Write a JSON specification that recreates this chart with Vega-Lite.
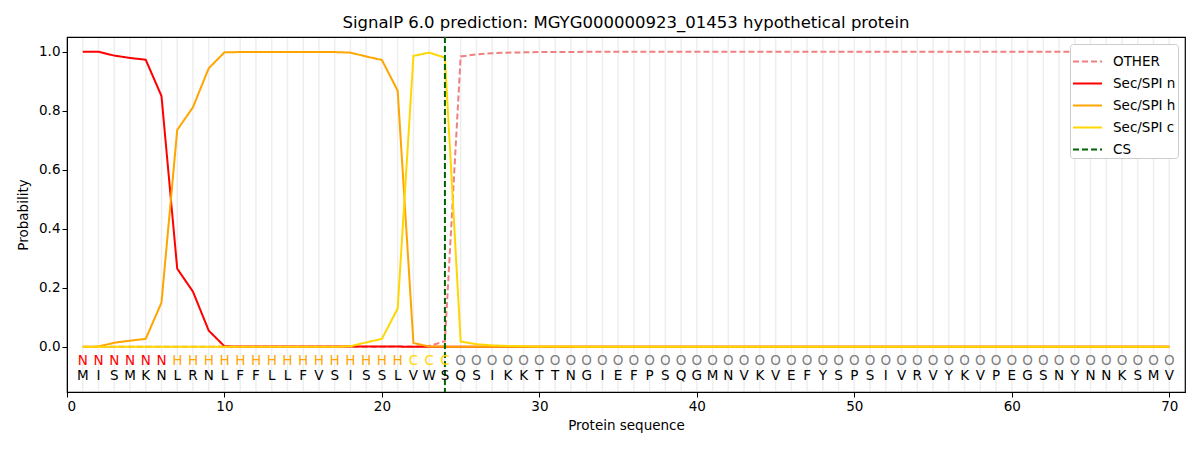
{
  "$schema": "https://vega.github.io/schema/vega-lite/v6.json",
  "width": 1118,
  "height": 355,
  "autosize": "none",
  "padding": {"left": 67, "top": 37, "right": 15, "bottom": 58},
  "title": {
    "text": "SignalP 6.0 prediction: MGYG000000923_01453 hypothetical protein",
    "font": "DejaVu Sans",
    "fontSize": 16.5,
    "fontWeight": "normal",
    "offset": 5
  },
  "config": {
    "font": "DejaVu Sans",
    "view": {"stroke": "black", "strokeWidth": 1.2},
    "axis": {
      "grid": false,
      "domainColor": "black",
      "tickColor": "black",
      "labelColor": "black",
      "labelFontSize": 13.5,
      "titleFontSize": 13.5,
      "titleFontWeight": "normal",
      "titleColor": "black",
      "tickSize": 5
    }
  },
  "datasets": {
    "seq": [
      {"pos": 1, "aa": "M", "region": "N"}, {"pos": 2, "aa": "I", "region": "N"},
      {"pos": 3, "aa": "S", "region": "N"}, {"pos": 4, "aa": "M", "region": "N"},
      {"pos": 5, "aa": "K", "region": "N"}, {"pos": 6, "aa": "N", "region": "N"},
      {"pos": 7, "aa": "L", "region": "H"}, {"pos": 8, "aa": "R", "region": "H"},
      {"pos": 9, "aa": "N", "region": "H"}, {"pos": 10, "aa": "L", "region": "H"},
      {"pos": 11, "aa": "F", "region": "H"}, {"pos": 12, "aa": "F", "region": "H"},
      {"pos": 13, "aa": "L", "region": "H"}, {"pos": 14, "aa": "L", "region": "H"},
      {"pos": 15, "aa": "F", "region": "H"}, {"pos": 16, "aa": "V", "region": "H"},
      {"pos": 17, "aa": "S", "region": "H"}, {"pos": 18, "aa": "I", "region": "H"},
      {"pos": 19, "aa": "S", "region": "H"}, {"pos": 20, "aa": "S", "region": "H"},
      {"pos": 21, "aa": "L", "region": "H"}, {"pos": 22, "aa": "V", "region": "C"},
      {"pos": 23, "aa": "W", "region": "C"}, {"pos": 24, "aa": "S", "region": "C"},
      {"pos": 25, "aa": "Q", "region": "O"}, {"pos": 26, "aa": "S", "region": "O"},
      {"pos": 27, "aa": "I", "region": "O"}, {"pos": 28, "aa": "K", "region": "O"},
      {"pos": 29, "aa": "K", "region": "O"}, {"pos": 30, "aa": "T", "region": "O"},
      {"pos": 31, "aa": "T", "region": "O"}, {"pos": 32, "aa": "N", "region": "O"},
      {"pos": 33, "aa": "G", "region": "O"}, {"pos": 34, "aa": "I", "region": "O"},
      {"pos": 35, "aa": "E", "region": "O"}, {"pos": 36, "aa": "F", "region": "O"},
      {"pos": 37, "aa": "P", "region": "O"}, {"pos": 38, "aa": "S", "region": "O"},
      {"pos": 39, "aa": "Q", "region": "O"}, {"pos": 40, "aa": "G", "region": "O"},
      {"pos": 41, "aa": "M", "region": "O"}, {"pos": 42, "aa": "N", "region": "O"},
      {"pos": 43, "aa": "V", "region": "O"}, {"pos": 44, "aa": "K", "region": "O"},
      {"pos": 45, "aa": "V", "region": "O"}, {"pos": 46, "aa": "E", "region": "O"},
      {"pos": 47, "aa": "F", "region": "O"}, {"pos": 48, "aa": "Y", "region": "O"},
      {"pos": 49, "aa": "S", "region": "O"}, {"pos": 50, "aa": "P", "region": "O"},
      {"pos": 51, "aa": "S", "region": "O"}, {"pos": 52, "aa": "I", "region": "O"},
      {"pos": 53, "aa": "V", "region": "O"}, {"pos": 54, "aa": "R", "region": "O"},
      {"pos": 55, "aa": "V", "region": "O"}, {"pos": 56, "aa": "Y", "region": "O"},
      {"pos": 57, "aa": "K", "region": "O"}, {"pos": 58, "aa": "V", "region": "O"},
      {"pos": 59, "aa": "P", "region": "O"}, {"pos": 60, "aa": "E", "region": "O"},
      {"pos": 61, "aa": "G", "region": "O"}, {"pos": 62, "aa": "S", "region": "O"},
      {"pos": 63, "aa": "N", "region": "O"}, {"pos": 64, "aa": "Y", "region": "O"},
      {"pos": 65, "aa": "N", "region": "O"}, {"pos": 66, "aa": "N", "region": "O"},
      {"pos": 67, "aa": "K", "region": "O"}, {"pos": 68, "aa": "S", "region": "O"},
      {"pos": 69, "aa": "M", "region": "O"}, {"pos": 70, "aa": "V", "region": "O"}
    ],
    "prob": [
      {"pos": 1, "OTHER": 0.0, "Sec/SPI n": 1.0, "Sec/SPI h": 0.0, "Sec/SPI c": 0.0},
      {"pos": 2, "OTHER": 0.0, "Sec/SPI n": 1.0, "Sec/SPI h": 0.001, "Sec/SPI c": 0.0},
      {"pos": 3, "OTHER": 0.0, "Sec/SPI n": 0.987, "Sec/SPI h": 0.014, "Sec/SPI c": 0.0},
      {"pos": 4, "OTHER": 0.0, "Sec/SPI n": 0.979, "Sec/SPI h": 0.021, "Sec/SPI c": 0.0},
      {"pos": 5, "OTHER": 0.0, "Sec/SPI n": 0.973, "Sec/SPI h": 0.027, "Sec/SPI c": 0.0},
      {"pos": 6, "OTHER": 0.0, "Sec/SPI n": 0.85, "Sec/SPI h": 0.15, "Sec/SPI c": 0.0},
      {"pos": 7, "OTHER": 0.0, "Sec/SPI n": 0.265, "Sec/SPI h": 0.735, "Sec/SPI c": 0.0},
      {"pos": 8, "OTHER": 0.0, "Sec/SPI n": 0.187, "Sec/SPI h": 0.812, "Sec/SPI c": 0.0},
      {"pos": 9, "OTHER": 0.0, "Sec/SPI n": 0.055, "Sec/SPI h": 0.944, "Sec/SPI c": 0.0},
      {"pos": 10, "OTHER": 0.0, "Sec/SPI n": 0.002, "Sec/SPI h": 0.998, "Sec/SPI c": 0.0},
      {"pos": 11, "OTHER": 0.0, "Sec/SPI n": 0.001, "Sec/SPI h": 0.999, "Sec/SPI c": 0.0},
      {"pos": 12, "OTHER": 0.0, "Sec/SPI n": 0.001, "Sec/SPI h": 0.999, "Sec/SPI c": 0.0},
      {"pos": 13, "OTHER": 0.0, "Sec/SPI n": 0.001, "Sec/SPI h": 0.999, "Sec/SPI c": 0.0},
      {"pos": 14, "OTHER": 0.0, "Sec/SPI n": 0.001, "Sec/SPI h": 0.999, "Sec/SPI c": 0.0},
      {"pos": 15, "OTHER": 0.0, "Sec/SPI n": 0.001, "Sec/SPI h": 0.999, "Sec/SPI c": 0.0},
      {"pos": 16, "OTHER": 0.0, "Sec/SPI n": 0.001, "Sec/SPI h": 0.999, "Sec/SPI c": 0.0},
      {"pos": 17, "OTHER": 0.0, "Sec/SPI n": 0.001, "Sec/SPI h": 0.999, "Sec/SPI c": 0.0},
      {"pos": 18, "OTHER": 0.0, "Sec/SPI n": 0.001, "Sec/SPI h": 0.997, "Sec/SPI c": 0.002},
      {"pos": 19, "OTHER": 0.0, "Sec/SPI n": 0.001, "Sec/SPI h": 0.984, "Sec/SPI c": 0.015},
      {"pos": 20, "OTHER": 0.0, "Sec/SPI n": 0.001, "Sec/SPI h": 0.972, "Sec/SPI c": 0.027},
      {"pos": 21, "OTHER": 0.001, "Sec/SPI n": 0.001, "Sec/SPI h": 0.868, "Sec/SPI c": 0.13},
      {"pos": 22, "OTHER": 0.001, "Sec/SPI n": 0.0, "Sec/SPI h": 0.013, "Sec/SPI c": 0.986},
      {"pos": 23, "OTHER": 0.003, "Sec/SPI n": 0.0, "Sec/SPI h": 0.001, "Sec/SPI c": 0.997},
      {"pos": 24, "OTHER": 0.019, "Sec/SPI n": 0.0, "Sec/SPI h": 0.001, "Sec/SPI c": 0.98},
      {"pos": 25, "OTHER": 0.984, "Sec/SPI n": 0.0, "Sec/SPI h": 0.0, "Sec/SPI c": 0.018},
      {"pos": 26, "OTHER": 0.991, "Sec/SPI n": 0.0, "Sec/SPI h": 0.0, "Sec/SPI c": 0.009},
      {"pos": 27, "OTHER": 0.995, "Sec/SPI n": 0.0, "Sec/SPI h": 0.0, "Sec/SPI c": 0.005},
      {"pos": 28, "OTHER": 0.997, "Sec/SPI n": 0.0, "Sec/SPI h": 0.0, "Sec/SPI c": 0.003},
      {"pos": 29, "OTHER": 0.998, "Sec/SPI n": 0.0, "Sec/SPI h": 0.0, "Sec/SPI c": 0.002},
      {"pos": 30, "OTHER": 0.999, "Sec/SPI n": 0.0, "Sec/SPI h": 0.0, "Sec/SPI c": 0.001},
      {"pos": 31, "OTHER": 0.999, "Sec/SPI n": 0.0, "Sec/SPI h": 0.0, "Sec/SPI c": 0.001},
      {"pos": 32, "OTHER": 0.999, "Sec/SPI n": 0.0, "Sec/SPI h": 0.0, "Sec/SPI c": 0.001},
      {"pos": 33, "OTHER": 1.0, "Sec/SPI n": 0.0, "Sec/SPI h": 0.0, "Sec/SPI c": 0.0},
      {"pos": 34, "OTHER": 1.0, "Sec/SPI n": 0.0, "Sec/SPI h": 0.0, "Sec/SPI c": 0.0},
      {"pos": 35, "OTHER": 1.0, "Sec/SPI n": 0.0, "Sec/SPI h": 0.0, "Sec/SPI c": 0.0},
      {"pos": 36, "OTHER": 1.0, "Sec/SPI n": 0.0, "Sec/SPI h": 0.0, "Sec/SPI c": 0.0},
      {"pos": 37, "OTHER": 1.0, "Sec/SPI n": 0.0, "Sec/SPI h": 0.0, "Sec/SPI c": 0.0},
      {"pos": 38, "OTHER": 1.0, "Sec/SPI n": 0.0, "Sec/SPI h": 0.0, "Sec/SPI c": 0.0},
      {"pos": 39, "OTHER": 1.0, "Sec/SPI n": 0.0, "Sec/SPI h": 0.0, "Sec/SPI c": 0.0},
      {"pos": 40, "OTHER": 1.0, "Sec/SPI n": 0.0, "Sec/SPI h": 0.0, "Sec/SPI c": 0.0},
      {"pos": 41, "OTHER": 1.0, "Sec/SPI n": 0.0, "Sec/SPI h": 0.0, "Sec/SPI c": 0.0},
      {"pos": 42, "OTHER": 1.0, "Sec/SPI n": 0.0, "Sec/SPI h": 0.0, "Sec/SPI c": 0.0},
      {"pos": 43, "OTHER": 1.0, "Sec/SPI n": 0.0, "Sec/SPI h": 0.0, "Sec/SPI c": 0.0},
      {"pos": 44, "OTHER": 1.0, "Sec/SPI n": 0.0, "Sec/SPI h": 0.0, "Sec/SPI c": 0.0},
      {"pos": 45, "OTHER": 1.0, "Sec/SPI n": 0.0, "Sec/SPI h": 0.0, "Sec/SPI c": 0.0},
      {"pos": 46, "OTHER": 1.0, "Sec/SPI n": 0.0, "Sec/SPI h": 0.0, "Sec/SPI c": 0.0},
      {"pos": 47, "OTHER": 1.0, "Sec/SPI n": 0.0, "Sec/SPI h": 0.0, "Sec/SPI c": 0.0},
      {"pos": 48, "OTHER": 1.0, "Sec/SPI n": 0.0, "Sec/SPI h": 0.0, "Sec/SPI c": 0.0},
      {"pos": 49, "OTHER": 1.0, "Sec/SPI n": 0.0, "Sec/SPI h": 0.0, "Sec/SPI c": 0.0},
      {"pos": 50, "OTHER": 1.0, "Sec/SPI n": 0.0, "Sec/SPI h": 0.0, "Sec/SPI c": 0.0},
      {"pos": 51, "OTHER": 1.0, "Sec/SPI n": 0.0, "Sec/SPI h": 0.0, "Sec/SPI c": 0.0},
      {"pos": 52, "OTHER": 1.0, "Sec/SPI n": 0.0, "Sec/SPI h": 0.0, "Sec/SPI c": 0.0},
      {"pos": 53, "OTHER": 1.0, "Sec/SPI n": 0.0, "Sec/SPI h": 0.0, "Sec/SPI c": 0.0},
      {"pos": 54, "OTHER": 1.0, "Sec/SPI n": 0.0, "Sec/SPI h": 0.0, "Sec/SPI c": 0.0},
      {"pos": 55, "OTHER": 1.0, "Sec/SPI n": 0.0, "Sec/SPI h": 0.0, "Sec/SPI c": 0.0},
      {"pos": 56, "OTHER": 1.0, "Sec/SPI n": 0.0, "Sec/SPI h": 0.0, "Sec/SPI c": 0.0},
      {"pos": 57, "OTHER": 1.0, "Sec/SPI n": 0.0, "Sec/SPI h": 0.0, "Sec/SPI c": 0.0},
      {"pos": 58, "OTHER": 1.0, "Sec/SPI n": 0.0, "Sec/SPI h": 0.0, "Sec/SPI c": 0.0},
      {"pos": 59, "OTHER": 1.0, "Sec/SPI n": 0.0, "Sec/SPI h": 0.0, "Sec/SPI c": 0.0},
      {"pos": 60, "OTHER": 1.0, "Sec/SPI n": 0.0, "Sec/SPI h": 0.0, "Sec/SPI c": 0.0},
      {"pos": 61, "OTHER": 1.0, "Sec/SPI n": 0.0, "Sec/SPI h": 0.0, "Sec/SPI c": 0.0},
      {"pos": 62, "OTHER": 1.0, "Sec/SPI n": 0.0, "Sec/SPI h": 0.0, "Sec/SPI c": 0.0},
      {"pos": 63, "OTHER": 1.0, "Sec/SPI n": 0.0, "Sec/SPI h": 0.0, "Sec/SPI c": 0.0},
      {"pos": 64, "OTHER": 1.0, "Sec/SPI n": 0.0, "Sec/SPI h": 0.0, "Sec/SPI c": 0.0},
      {"pos": 65, "OTHER": 1.0, "Sec/SPI n": 0.0, "Sec/SPI h": 0.0, "Sec/SPI c": 0.0},
      {"pos": 66, "OTHER": 1.0, "Sec/SPI n": 0.0, "Sec/SPI h": 0.0, "Sec/SPI c": 0.0},
      {"pos": 67, "OTHER": 1.0, "Sec/SPI n": 0.0, "Sec/SPI h": 0.0, "Sec/SPI c": 0.0},
      {"pos": 68, "OTHER": 1.0, "Sec/SPI n": 0.0, "Sec/SPI h": 0.0, "Sec/SPI c": 0.0},
      {"pos": 69, "OTHER": 1.0, "Sec/SPI n": 0.0, "Sec/SPI h": 0.0, "Sec/SPI c": 0.0},
      {"pos": 70, "OTHER": 1.0, "Sec/SPI n": 0.0, "Sec/SPI h": 0.0, "Sec/SPI c": 0.0}
    ],
    "cs": [{"pos": 24, "series": "CS"}]
  },
  "encoding": {
    "x": {
      "field": "pos",
      "type": "quantitative",
      "title": "Protein sequence",
      "scale": {"domain": [0, 71], "nice": false, "zero": false},
      "axis": {"values": [0, 10, 20, 30, 40, 50, 60, 70], "titlePadding": 6}
    }
  },
  "layer": [
    {
      "data": {"name": "seq"},
      "mark": {"type": "rule", "color": "#eeeeee", "strokeWidth": 1.5},
      "encoding": {
        "y": {"datum": 1.046, "type": "quantitative"},
        "y2": {"datum": -0.15}
      }
    },
    {
      "data": {"name": "prob"},
      "transform": [
        {"fold": ["OTHER", "Sec/SPI n", "Sec/SPI h", "Sec/SPI c"], "as": ["series", "p"]}
      ],
      "mark": {"type": "line", "strokeWidth": 2, "clip": true},
      "encoding": {
        "y": {
          "field": "p",
          "type": "quantitative",
          "title": "Probability",
          "scale": {"domain": [-0.153, 1.05], "nice": false, "zero": false},
          "axis": {"values": [0, 0.2, 0.4, 0.6, 0.8, 1.0], "format": ".1f", "titlePadding": 8}
        },
        "color": {
          "field": "series",
          "type": "nominal",
          "title": null,
          "scale": {
            "domain": ["OTHER", "Sec/SPI n", "Sec/SPI h", "Sec/SPI c", "CS"],
            "range": ["#f08080", "#ff0000", "#ffa500", "#ffd700", "#006400"]
          },
          "legend": {
            "orient": "top-right",
            "offset": 7,
            "symbolType": "stroke",
            "symbolSize": 841,
            "symbolStrokeWidth": 2,
            "labelFontSize": 13.5,
            "labelColor": "black",
            "labelOffset": 10,
            "rowPadding": -2,
            "padding": 2,
            "fillColor": "white",
            "strokeColor": "#cccccc",
            "cornerRadius": 3
          }
        },
        "strokeDash": {
          "field": "series",
          "type": "nominal",
          "title": null,
          "scale": {
            "domain": ["OTHER", "Sec/SPI n", "Sec/SPI h", "Sec/SPI c", "CS"],
            "range": [[6, 3], [1, 0], [1, 0], [1, 0], [6, 3]]
          }
        }
      }
    },
    {
      "data": {"name": "cs"},
      "mark": {"type": "rule", "strokeWidth": 2},
      "encoding": {
        "color": {"field": "series", "type": "nominal"},
        "strokeDash": {"field": "series", "type": "nominal"}
      }
    },
    {
      "data": {"name": "seq"},
      "mark": {"type": "text", "fontSize": 13.5, "baseline": "middle"},
      "encoding": {
        "y": {"datum": -0.047, "type": "quantitative"},
        "text": {"field": "region"},
        "color": {
          "condition": [
            {"test": "datum.region == 'N'", "value": "#ff0000"},
            {"test": "datum.region == 'H'", "value": "#ffa500"},
            {"test": "datum.region == 'C'", "value": "#ffd700"}
          ],
          "value": "#808080"
        }
      }
    },
    {
      "data": {"name": "seq"},
      "mark": {"type": "text", "fontSize": 13.5, "baseline": "middle", "color": "black"},
      "encoding": {
        "y": {"datum": -0.1, "type": "quantitative"},
        "text": {"field": "aa"}
      }
    }
  ]
}
